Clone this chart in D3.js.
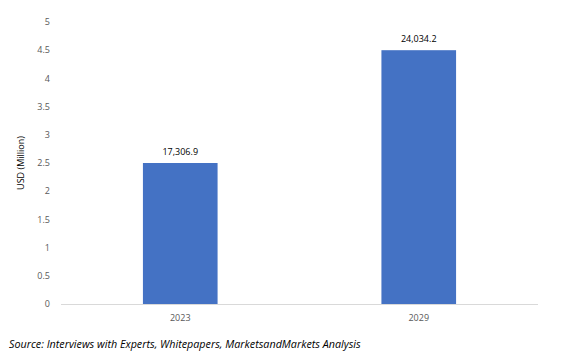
<!DOCTYPE html>
<html><head><meta charset="utf-8">
<script src="https://cdn.jsdelivr.net/npm/d3@7"></script>
<style>body{margin:0;background:#fff}svg{display:block}</style>
</head><body>
<script>
const categories = ["2023", "2029"];
const values = [2.5, 4.5];
const valueLabels = ["17,306.9", "24,034.2"];
const yTicks = [0, 0.5, 1, 1.5, 2, 2.5, 3, 3.5, 4, 4.5, 5];
const yTitle = "USD (Million)";
const source = "Source: Interviews with Experts, Whitepapers, MarketsandMarkets Analysis";

const W = 567, H = 361;
const m = {left: 61, right: 29, top: 22, bottom: 57};
const svg = d3.select("body").append("svg").attr("width", W).attr("height", H);
const font = "'Open Sans', sans-serif";

const x = d3.scaleBand().domain(categories).range([m.left, W - m.right]).padding(0);
const y = d3.scaleLinear().domain([0, 5]).range([H - m.bottom, m.top]);
const bw = x.bandwidth() * 0.313;

svg.append("g").selectAll("text").data(yTicks).join("text")
  .attr("x", 50).attr("y", d => y(d)).attr("dy", "0.35em")
  .attr("text-anchor", "end").attr("font-family", font).attr("font-size", 9)
  .attr("fill", "#595959").text(d => d);

svg.append("line").attr("x1", m.left).attr("x2", W - m.right)
  .attr("y1", y(0) + 0.5).attr("y2", y(0) + 0.5).attr("stroke", "#d9d9d9").attr("stroke-width", 1);

svg.append("g").selectAll("rect").data(values).join("rect")
  .attr("x", (d, i) => x(categories[i]) + x.bandwidth() / 2 - bw / 2)
  .attr("width", bw)
  .attr("y", d => y(d)).attr("height", d => y(0) - y(d))
  .attr("fill", "#4472C4");

svg.append("g").selectAll("text").data(values).join("text")
  .attr("x", (d, i) => x(categories[i]) + x.bandwidth() / 2)
  .attr("y", d => y(d) - 8)
  .attr("text-anchor", "middle").attr("font-family", font).attr("font-size", 9)
  .attr("fill", "#000").text((d, i) => valueLabels[i]);

svg.append("g").selectAll("text").data(categories).join("text")
  .attr("x", d => x(d) + x.bandwidth() / 2).attr("y", y(0) + 17)
  .attr("text-anchor", "middle").attr("font-family", font).attr("font-size", 9)
  .attr("fill", "#595959").text(d => d);

svg.append("text").attr("transform", `translate(24,${(y(0) + y(5)) / 2}) rotate(-90)`)
  .attr("text-anchor", "middle").attr("font-family", font).attr("font-size", 9)
  .attr("fill", "#000").text(yTitle);

svg.append("text").attr("x", 9).attr("y", 348)
  .attr("font-family", font).attr("font-style", "italic").attr("font-size", 10.75)
  .attr("fill", "#000").text(source);
</script>
</body></html>
